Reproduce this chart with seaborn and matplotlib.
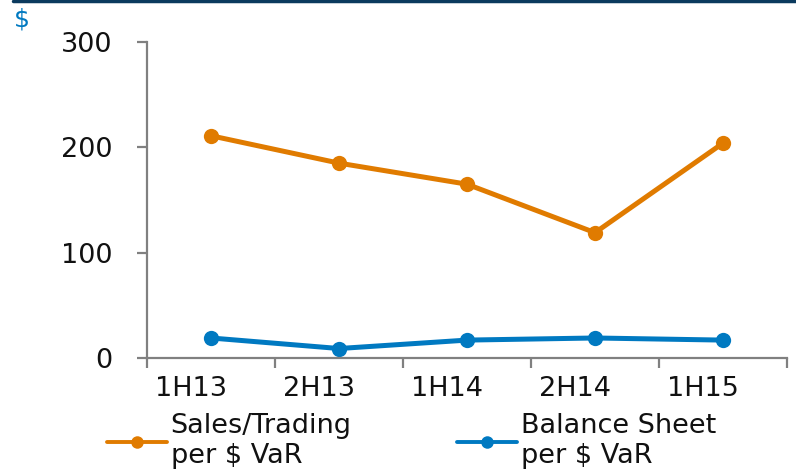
import matplotlib
matplotlib.use("Agg")
import matplotlib.pyplot as plt
import matplotlib.transforms as mtransforms
from matplotlib.lines import Line2D
import seaborn as sns
import pandas as pd

periods = ["1H13", "2H13", "1H14", "2H14", "1H15"]
sales_trading = [211, 185, 165, 119, 204]
balance_sheet = [19, 9, 17, 19, 17]
series_names = ["Sales/Trading\nper \\$ VaR", "Balance Sheet\nper \\$ VaR"]
y_ticks = [0, 100, 200, 300]

ORANGE = "#E07B00"
BLUE = "#0079C1"
AXIS_GREY = "#808080"
TEXT = "#111111"

sns.set_theme(style="white")
plt.rcParams["font.family"] = ["DejaVu Sans"]

df = pd.DataFrame({
    "period": periods * 2,
    "pos": list(range(len(periods))) * 2,
    "value": sales_trading + balance_sheet,
    "series": [series_names[0]] * len(periods) + [series_names[1]] * len(periods),
})

fig = plt.figure(figsize=(7.96, 4.69), dpi=100)
ax = fig.add_axes([147 / 796, 1 - 358 / 469, (787 - 147) / 796, (358 - 42) / 469])

sns.lineplot(
    data=df, x="pos", y="value", hue="series",
    palette=[ORANGE, BLUE], marker="o", markersize=11,
    markeredgewidth=0, linewidth=3.6, ax=ax, legend=False,
)

ax.set_xlim(-0.5, len(periods) - 0.5)
ax.set_ylim(0, 300)
ax.set_xlabel("")
ax.set_ylabel("")

# category labels at centres, tick marks on the boundaries
ax.set_xticks(range(len(periods)))
ax.set_xticklabels(periods)
ax.tick_params(axis="x", which="major", bottom=True, length=0, pad=13,
               labelsize=19.5, labelcolor=TEXT)
shift = mtransforms.ScaledTranslation(-20 / 100, 0, fig.dpi_scale_trans)
for lbl in ax.get_xticklabels():
    lbl.set_transform(lbl.get_transform() + shift)
ax.set_xticks([i - 0.5 for i in range(len(periods) + 1)], minor=True)
ax.tick_params(axis="x", which="minor", bottom=True, length=7, width=1.6,
               color=AXIS_GREY, direction="out")

ax.set_yticks(y_ticks)
ax.tick_params(axis="y", left=True, length=7, width=1.6, color=AXIS_GREY, direction="out",
               pad=18, labelsize=19.5, labelcolor=TEXT)

for side in ("top", "right"):
    ax.spines[side].set_visible(False)
for side in ("left", "bottom"):
    ax.spines[side].set_color(AXIS_GREY)
    ax.spines[side].set_linewidth(1.6)

handles = [
    Line2D([], [], color=ORANGE, lw=2.8, marker="o", markersize=9, markeredgewidth=0),
    Line2D([], [], color=BLUE, lw=2.8, marker="o", markersize=9, markeredgewidth=0),
]
leg = fig.legend(handles, series_names, loc="center left", bbox_to_anchor=(107 / 796, 1 - 441 / 469),
                 ncol=2, frameon=False, fontsize=19.5, handlelength=2.2, handletextpad=0.15,
                 columnspacing=3.9, borderpad=0, borderaxespad=0)
for t in leg.get_texts():
    t.set_color(TEXT)

fig.text(14 / 796, 1 - 20 / 469, "\\$", color=BLUE, fontsize=18, va="center", ha="left")
fig.add_artist(Line2D([13 / 796, 1], [1 - 1.5 / 469, 1 - 1.5 / 469],
                      transform=fig.transFigure, color="#0B3A5E", lw=2.5))

fig.savefig("out.png", dpi=100)
